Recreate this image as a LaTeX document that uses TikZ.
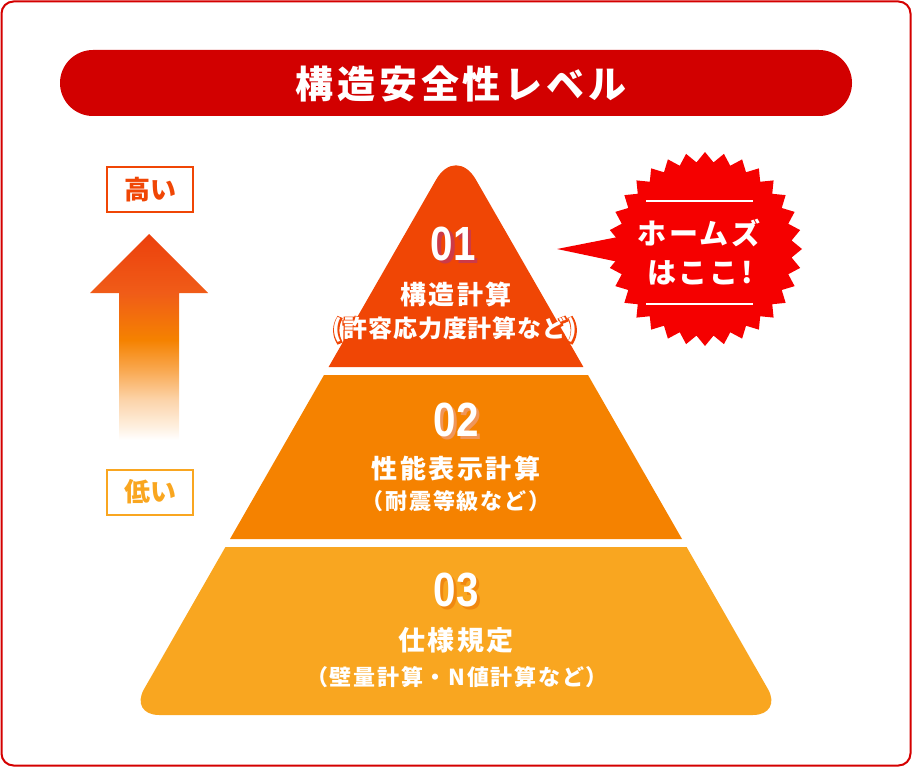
\documentclass[tikz,border=0pt]{standalone}
\usepackage{fontspec}
\setmainfont{Noto Sans CJK JP}
\newfontfamily\numfont{Liberation Sans}
\usetikzlibrary{calc}
\definecolor{framered}{RGB}{212,0,0}
\definecolor{titlered}{RGB}{210,0,0}
\definecolor{tierone}{RGB}{240,70,5}
\definecolor{tiertwo}{RGB}{245,130,0}
\definecolor{tierthree}{RGB}{249,166,32}
\definecolor{shadowone}{RGB}{204,58,72}
\definecolor{shadowtwo}{RGB}{240,150,90}
\definecolor{shadowthree}{RGB}{240,136,16}
\definecolor{starred}{RGB}{245,0,0}
\definecolor{atip}{RGB}{236,64,12}
\definecolor{ahead}{RGB}{240,92,24}
\definecolor{amid}{RGB}{245,130,0}
\definecolor{alight}{RGB}{249,168,80}
\definecolor{apale}{RGB}{252,212,170}
\definecolor{avpale}{RGB}{254,238,220}
\pgfdeclareverticalshading{arrowshade}{100bp}{color(0bp)=(white); color(25bp)=(white); color(28.6bp)=(avpale); color(34.7bp)=(apale); color(42bp)=(alight); color(49.3bp)=(amid); color(60.7bp)=(ahead); color(75bp)=(atip); color(100bp)=(atip)}
\tikzset{
  numtxt/.style={inner sep=0pt, font=\numfont\bfseries\fontsize{48}{48}\selectfont},
  headtxt/.style={inner sep=0pt, text=white, font=\bfseries\fontsize{26}{26}\selectfont\addfontfeatures{LetterSpace=10}},
  subtxt/.style={inner sep=0pt, text=white, font=\bfseries\fontsize{22}{22}\selectfont\addfontfeatures{LetterSpace=8}},
  subone/.style={inner sep=0pt, font=\bfseries\fontsize{24}{24}\selectfont\addfontfeatures{LetterSpace=4}},
  levelbox/.style={draw, line width=2pt, minimum width=86pt, minimum height=45pt, inner sep=0pt, font=\bfseries\fontsize{26}{26}\selectfont},
  startxt/.style={inner sep=0pt, text=white, font=\bfseries\fontsize{29}{29}\selectfont\addfontfeatures{LetterSpace=8}}
}
\begin{document}
\begin{tikzpicture}[x=1pt,y=-1pt]
\useasboundingbox (0,0) rectangle (912,767);
% frame
\draw[framered, line width=2pt, rounded corners=12pt] (1.5,1.5) rectangle (910.5,765.5);
% title pill
\fill[titlered, rounded corners=33pt] (60,50) rectangle (852,116);
\node[inner sep=0pt, text=white, font=\bfseries\fontsize{38}{38}\selectfont\addfontfeatures{LetterSpace=10}] (title) at (461,84) {構造安全性レベル};
% pyramid
\fill[tierone] (328.6,367) [rounded corners=40pt] -- (456,145) [sharp corners] -- (583.4,367) -- cycle;
\fill[tiertwo] (324,375) -- (230,539) -- (682,539) -- (588,375) -- cycle;
\fill[tierthree] (456,547) -- (225.4,547) [rounded corners=30pt] -- (129.2,715) -- (782.8,715) [sharp corners] -- (686.6,547) -- cycle;
% tier 1 texts
\node[numtxt, text=shadowone] (n1s) at (456.5,247) {\scalebox{0.84}[1]{01}};
\node[numtxt, text=white] (n1) at (453,244) {\scalebox{0.84}[1]{01}};
\node[headtxt] (h1) at (456,294) {構造計算};
\node[subone, text=tierone, font=\bfseries\fontsize{24}{24}\selectfont\addfontfeatures{LetterSpace=4,FakeBold=12}] (s1h) at (455,330) {(許容応力度計算など)};
\node[subone, text=white] (s1) at (455,330) {(許容応力度計算など)};
% tier 2 texts
\node[numtxt, text=shadowtwo] (n2s) at (459,423) {\scalebox{0.84}[1]{02}};
\node[numtxt, text=white] (n2) at (456,420) {\scalebox{0.84}[1]{02}};
\node[headtxt] (h2) at (456,468) {性能表示計算};
\node[subtxt] (s2) at (456,501) {（耐震等級など）};
% tier 3 texts
\node[numtxt, text=shadowthree] (n3s) at (459,593) {\scalebox{0.84}[1]{03}};
\node[numtxt, text=white] (n3) at (456,590) {\scalebox{0.84}[1]{03}};
\node[headtxt, font=\bfseries\fontsize{27}{27}\selectfont\addfontfeatures{LetterSpace=8}] (h3) at (456,640) {仕様規定};
\node[subtxt] (s3) at (457,677) {（壁量計算・N値計算など）};
% level indicator
\node[levelbox, draw=tierone, text=tierone] (high) at (150,190) {高い};
\node[levelbox, draw=tierthree, text=tierthree] (low) at (150,492) {低い};
\shade[shading=arrowshade] (149,234) -- (208,293) -- (179,293) -- (179,440) -- (119,440) -- (119,293) -- (90,293) -- cycle;
% starburst
\fill[starred] (557,249) -- (628,235) -- (628,264) -- cycle;
\fill[starred, shift={(705,249)}] (0:97pt) \foreach \i [evaluate=\i as \rad using {92+5*cos(\i*180)}] in {1,...,63} { -- ({\i*5.625}:{\rad pt}) } -- cycle;
\draw[white, line width=1.5pt] (646,201) -- (753,201);
\draw[white, line width=1.5pt] (646,304) -- (753,304);
\node[startxt] (star1) at (699,233) {ホームズ};
\node[startxt] (star2) at (700,273) {はここ!};
\end{tikzpicture}
\end{document}
